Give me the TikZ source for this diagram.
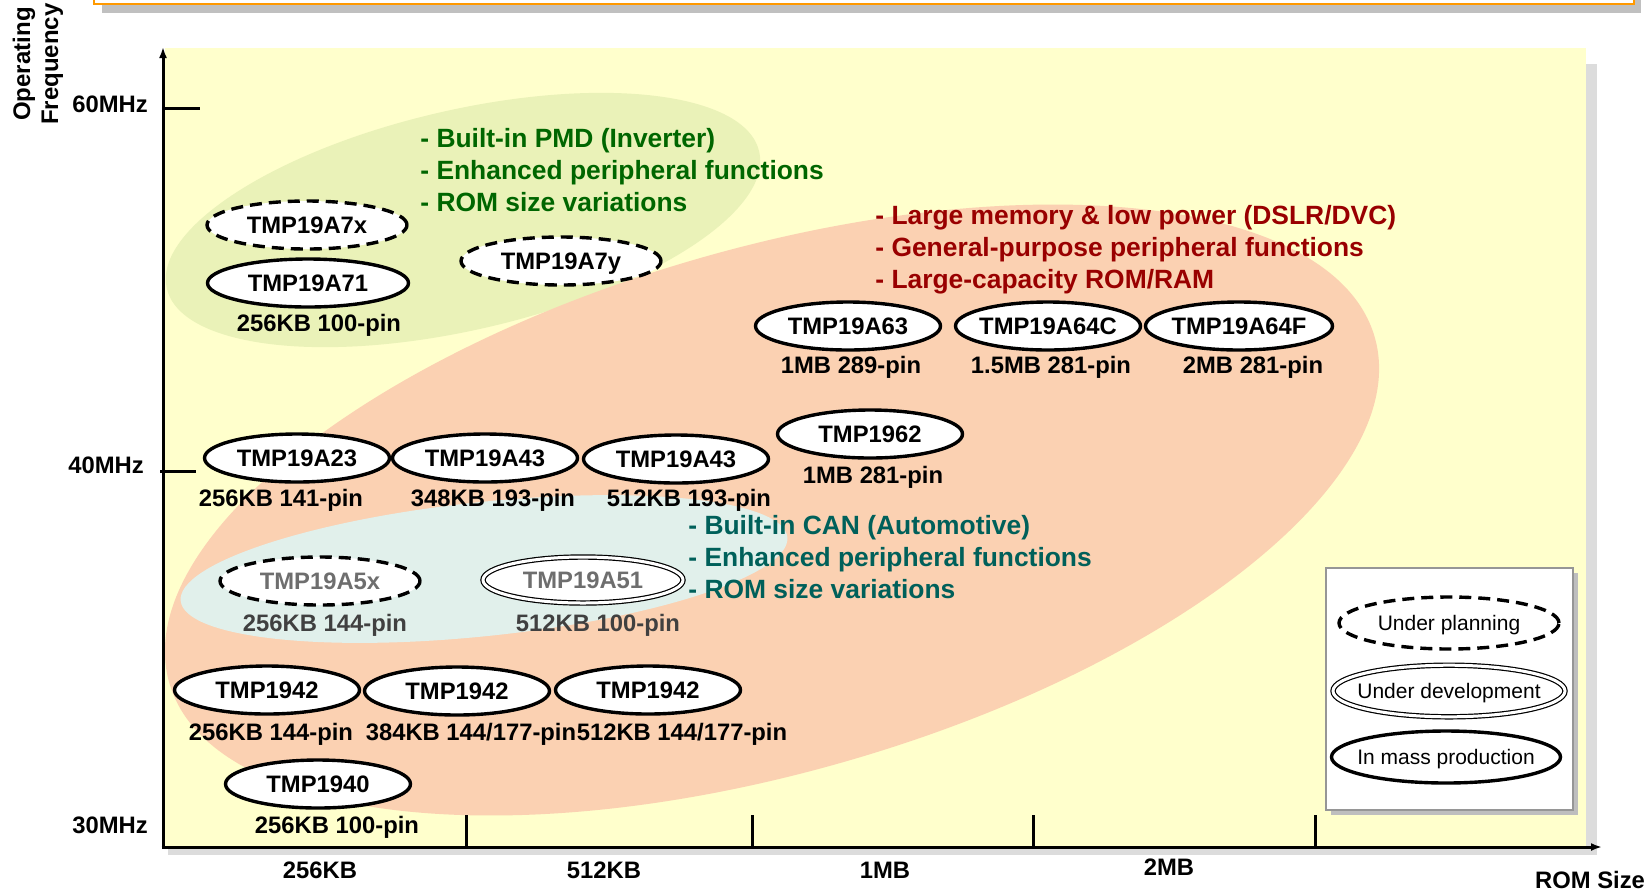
\documentclass[tikz,border=0pt]{standalone}
\usepackage{fontspec}
\setmainfont{Liberation Sans}
\usetikzlibrary{shapes.geometric,arrows.meta}

\definecolor{bgyellow}{RGB}{255,255,204}
\definecolor{salmon}{RGB}{251,209,178}
\definecolor{pmdgreen}{RGB}{234,242,184}
\definecolor{canteal}{RGB}{225,240,235}
\definecolor{txtgreen}{RGB}{0,102,0}
\definecolor{txtred}{RGB}{153,0,0}
\definecolor{txtteal}{RGB}{0,96,90}
\definecolor{chipgray}{RGB}{110,110,110}
\definecolor{infogray}{RGB}{64,64,64}
\definecolor{frame}{RGB}{255,153,0}
\definecolor{titleshade}{RGB}{192,192,192}
\definecolor{areashade}{RGB}{220,220,220}
\definecolor{legendgray}{RGB}{150,150,150}
\definecolor{legendshade}{RGB}{190,190,190}

\tikzset{
  oval/.style={ellipse, draw, fill=white, line width=1.7pt, inner xsep=-8pt, inner ysep=0pt, text depth=0pt},
  plan/.style={dash pattern=on 6pt off 3.5pt},
  dev/.style={line width=.6pt, double, double distance=1.5pt},
  chip/.style={oval, minimum width=92.5pt, minimum height=24pt, text height=8.5pt,
    font=\bfseries\fontsize{11.9}{14}\selectfont},
  legendkey/.style={oval, text height=7.5pt, font=\fontsize{10.5}{12}\selectfont},
  info/.style={inner sep=0pt, text height=8.5pt, text depth=0pt, font=\bfseries\fontsize{11.9}{14}\selectfont},
  feat/.style={anchor=north west, inner sep=0pt, align=left, font=\bfseries\fontsize{13.2}{16}\selectfont},
  axisline/.style={line width=1.5pt}
}

\begin{document}
\begin{tikzpicture}[x=0.5pt,y=-0.5pt]
\newcommand{\mcu}[6]{
  \node[#1] (#2) at (#3) {#4};
  \node[info] (#2i) at (#5) {#6};
}
\useasboundingbox (0,0) rectangle (1648,891);
\clip (0,0) rectangle (1648,891);

% title frame, cut by the top edge
\fill[titleshade] (102,-20) rectangle (1641,13);
\draw[line width=1.2pt, draw=frame, fill=white] (94,-20) rectangle (1634,4);

% chart area
\fill[areashade] (168,64) rectangle (1597,855);
\fill[bgyellow] (165,48) rectangle (1586,847);

% product families
\fill[pmdgreen, rotate around={13:(463,220)}] (463,220) ellipse [x radius=304, y radius=110];
\fill[salmon, rotate around={16:(772,510)}] (772,510) ellipse [x radius=627, y radius=262];
\fill[canteal, rotate around={6:(484,569)}] (484,569) ellipse [x radius=305, y radius=67];

% axes
\coordinate (origin) at (163,847);
\coordinate (ytop) at (163,47);
\coordinate (xend) at (1602,847);
\draw[axisline, -{Latex[length=5.5pt,width=4pt]}] ([yshift=-0.75pt]origin) -- (ytop);
\draw[axisline, -{Latex[length=5.5pt,width=4pt]}] ([xshift=-0.75pt]origin) -- (xend);
\draw[axisline] (163,108) -- (200,108);
\draw[axisline] (160,471) -- (196,471);
\foreach \tx in {466,752,1033,1315}
  \draw[axisline] (\tx,815) -- (\tx,847);

\node[info] (f60) at (110,104) {60MHz};
\node[info] (f40) at (106,465) {40MHz};
\node[info] (f30) at (110,825) {30MHz};
\node[rotate=90, align=center, inner sep=0pt, font=\bfseries\fontsize{12}{14}\selectfont] (freq) at (38,64) {Operating\\Frequency};
\node[info] (r256) at (320,870) {256KB};
\node[info] (r512) at (604,870) {512KB};
\node[info] (r1m) at (885,870) {1MB};
\node[info] (r2m) at (1169,867) {2MB};
\node[info] (rom) at (1590,880) {ROM Size};

% PMD family
\node[chip, plan, minimum width=100pt] (a7x) at (307,225) {TMP19A7x};
\mcu{chip, minimum width=100.5pt}{a71}{308,283}{TMP19A71}{319,323}{256KB 100-pin}
\node[chip, plan, minimum width=100pt] (a7y) at (561,261) {TMP19A7y};
\node[feat, text=txtgreen] (pmd) at (420,128) {- Built-in PMD (Inverter)\\- Enhanced peripheral functions\\- ROM size variations};

% large memory family
\node[feat, text=txtred] (dslr) at (875,205) {- Large memory \& low power (DSLR/DVC)\\- General-purpose peripheral functions\\- Large-capacity ROM/RAM};
\mcu{chip}{a63}{848,326}{TMP19A63}{851,365}{1MB 289-pin}
\mcu{chip}{a64c}{1048,326}{TMP19A64C}{1051,365}{1.5MB 281-pin}
\mcu{chip, minimum width=93.5pt}{a64f}{1239,326}{TMP19A64F}{1253,365}{2MB 281-pin}
\mcu{chip}{t1962}{870,434}{TMP1962}{873,475}{1MB 281-pin}
\mcu{chip}{a23}{297,458}{TMP19A23}{281,498}{256KB 141-pin}
\mcu{chip}{a43}{485,458}{TMP19A43}{493,498}{348KB 193-pin}
\mcu{chip}{a43b}{676,459}{TMP19A43}{689,498}{512KB 193-pin}
\mcu{chip}{t1942a}{267,690}{TMP1942}{271,732}{256KB 144-pin}
\mcu{chip}{t1942b}{457,691}{TMP1942}{471,732}{384KB 144/177-pin}
\mcu{chip}{t1942c}{648,690}{TMP1942}{682,732}{512KB 144/177-pin}
\mcu{chip}{t1940}{318,784}{TMP1940}{337,825}{256KB 100-pin}

% CAN family
\node[chip, plan, minimum width=100pt, text=chipgray] (a5x) at (320,581) {TMP19A5x};
\node[info, text=infogray] (a5xi) at (325,623) {256KB 144-pin};
\node[chip, dev, minimum width=100pt, minimum height=23pt, text=chipgray] (a51) at (583,580) {TMP19A51};
\node[info, text=infogray] (a51i) at (598,623) {512KB 100-pin};
\node[feat, text=txtteal] (can) at (688,515) {- Built-in CAN (Automotive)\\- Enhanced peripheral functions\\- ROM size variations};

% legend
\fill[legendshade] (1331,573) rectangle (1578,815);
\draw[legendgray, line width=.75pt, fill=white] (1326,568) rectangle (1573,810);
\node[legendkey, plan, minimum width=110pt, minimum height=26pt] (kplan) at (1449,623) {Under planning};
\node[legendkey, dev, minimum width=116pt, minimum height=25.8pt] (kdev) at (1449,691) {Under development};
\node[legendkey, minimum width=114.5pt, minimum height=26pt] (kmass) at (1446,757) {In mass production};
\end{tikzpicture}
\end{document}
